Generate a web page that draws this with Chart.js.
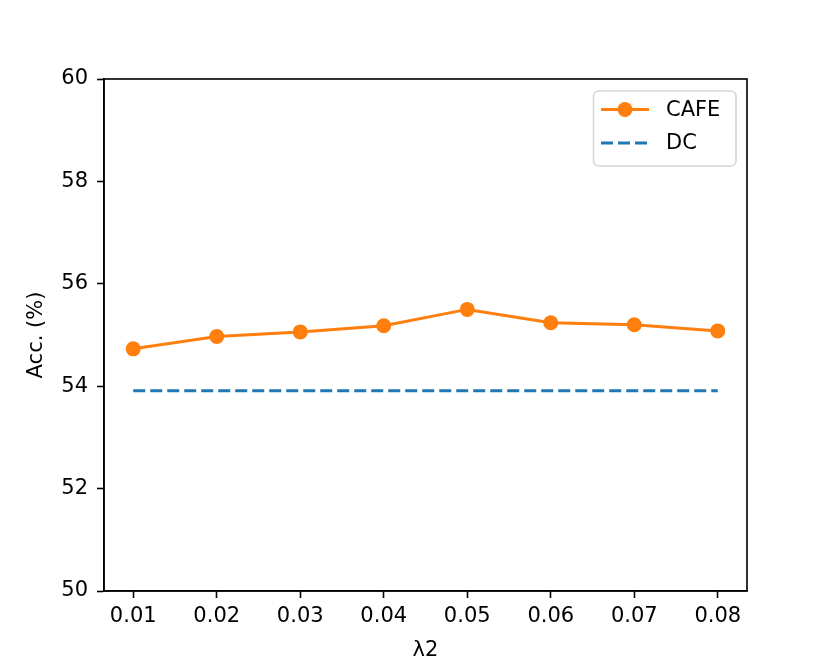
<!DOCTYPE html>
<html>
<head>
<meta charset="utf-8">
<script src="https://cdn.jsdelivr.net/npm/chart.js@4/dist/chart.umd.min.js"></script>
<style>
  html, body { margin: 0; padding: 0; background: #fff; }
  #wrap { width: 830px; height: 664px; }
</style>
</head>
<body>
<div id="wrap"><canvas id="c" width="830" height="664"></canvas></div>
<script>
const lambdas = [0.01, 0.02, 0.03, 0.04, 0.05, 0.06, 0.07, 0.08];
const xTickLabels = ['0.01', '0.02', '0.03', '0.04', '0.05', '0.06', '0.07', '0.08'];
const cafeAcc = [54.73, 54.97, 55.06, 55.18, 55.50, 55.24, 55.20, 55.08];
const dcAcc = [53.91, 53.91, 53.91, 53.91, 53.91, 53.91, 53.91, 53.91];
const yTicks = [50, 52, 54, 56, 58, 60];
const seriesNames = ['CAFE', 'DC'];
const xTitle = 'λ2';
const yTitle = 'Acc. (%)';

const FONT = "'DejaVu Sans', sans-serif";
const FS = 21;

const framePlugin = {
  id: 'frame',
  afterDraw(chart) {
    const { ctx, chartArea: a } = chart;
    ctx.save();
    ctx.strokeStyle = '#000';
    ctx.lineWidth = 1.6;
    ctx.strokeRect(a.left, a.top, a.right - a.left, a.bottom - a.top);
    // legend
    const bx = 593.5, by = 91, bw = 142.5, bh = 75;
    ctx.beginPath();
    ctx.roundRect(bx, by, bw, bh, 5);
    ctx.fillStyle = 'rgba(255,255,255,0.8)';
    ctx.fill();
    ctx.strokeStyle = '#d6d6d6';
    ctx.lineWidth = 1.6;
    ctx.stroke();
    const ds = chart.data.datasets;
    const rows = [109.5, 143];
    ds.forEach((d, i) => {
      const y = rows[i];
      ctx.strokeStyle = d.borderColor;
      ctx.lineWidth = d.borderWidth;
      ctx.setLineDash(d.borderDash || []);
      ctx.beginPath();
      ctx.moveTo(601, y);
      ctx.lineTo(649, y);
      ctx.stroke();
      ctx.setLineDash([]);
      if (d.pointRadius > 0) {
        ctx.fillStyle = d.pointBackgroundColor;
        ctx.beginPath();
        ctx.arc(625, y, d.pointRadius, 0, Math.PI * 2);
        ctx.fill();
      }
      ctx.fillStyle = '#000';
      ctx.font = FS + 'px ' + FONT;
      ctx.textBaseline = 'middle';
      ctx.textAlign = 'left';
      ctx.fillText(d.label, 666, y + 1);
    });
    ctx.restore();
  }
};

new Chart(document.getElementById('c'), {
  type: 'line',
  data: {
    datasets: [
      {
        label: seriesNames[0],
        data: lambdas.map((x, i) => ({ x, y: cafeAcc[i] })),
        borderColor: '#ff7f0e',
        backgroundColor: '#ff7f0e',
        pointBackgroundColor: '#ff7f0e',
        pointBorderColor: '#ff7f0e',
        borderWidth: 3,
        pointRadius: 7.5,
        pointBorderWidth: 0,
        tension: 0,
        fill: false
      },
      {
        label: seriesNames[1],
        data: lambdas.map((x, i) => ({ x, y: dcAcc[i] })),
        borderColor: '#1f77b4',
        backgroundColor: '#1f77b4',
        pointBackgroundColor: '#1f77b4',
        borderWidth: 3,
        borderDash: [12, 5],
        pointRadius: 0,
        tension: 0,
        fill: false
      }
    ]
  },
  options: {
    responsive: false,
    animation: false,
    devicePixelRatio: 1,
    layout: { padding: { left: 0, right: 83, top: 79, bottom: 0 } },
    plugins: { legend: { display: false }, tooltip: { enabled: false } },
    scales: {
      x: {
        type: 'linear',
        min: 0.0065,
        max: 0.0835,
        afterBuildTicks: (s) => { s.ticks = lambdas.map(v => ({ value: v })); },
        afterFit: (s) => { s.height = 73; },
        grid: { display: true, drawOnChartArea: false, drawTicks: true, tickLength: 7, tickColor: '#000', tickWidth: 1.6 },
        border: { display: true, color: '#000', width: 1.6 },
        ticks: {
          color: '#000',
          font: { family: FONT, size: FS },
          padding: 6,
          maxRotation: 0,
          autoSkip: false,
          callback: (v) => { const i = lambdas.findIndex(l => Math.abs(l - v) < 1e-9); return i >= 0 ? xTickLabels[i] : ''; }
        },
        title: { display: true, text: xTitle, color: '#000', font: { family: FONT, size: FS }, padding: { top: 0, bottom: 1 } }
      },
      y: {
        min: 50,
        max: 60,
        afterBuildTicks: (s) => { s.ticks = yTicks.map(v => ({ value: v })); },
        afterFit: (s) => { s.width = 104; },
        grid: { display: true, drawOnChartArea: false, drawTicks: true, tickLength: 7, tickColor: '#000', tickWidth: 1.6 },
        border: { display: true, color: '#000', width: 1.6 },
        ticks: { color: '#000', font: { family: FONT, size: FS }, padding: 9 },
        title: { display: true, text: yTitle, color: '#000', font: { family: FONT, size: FS }, padding: { top: 24, bottom: 0 } }
      }
    }
  },
  plugins: [framePlugin]
});
</script>
</body>
</html>
